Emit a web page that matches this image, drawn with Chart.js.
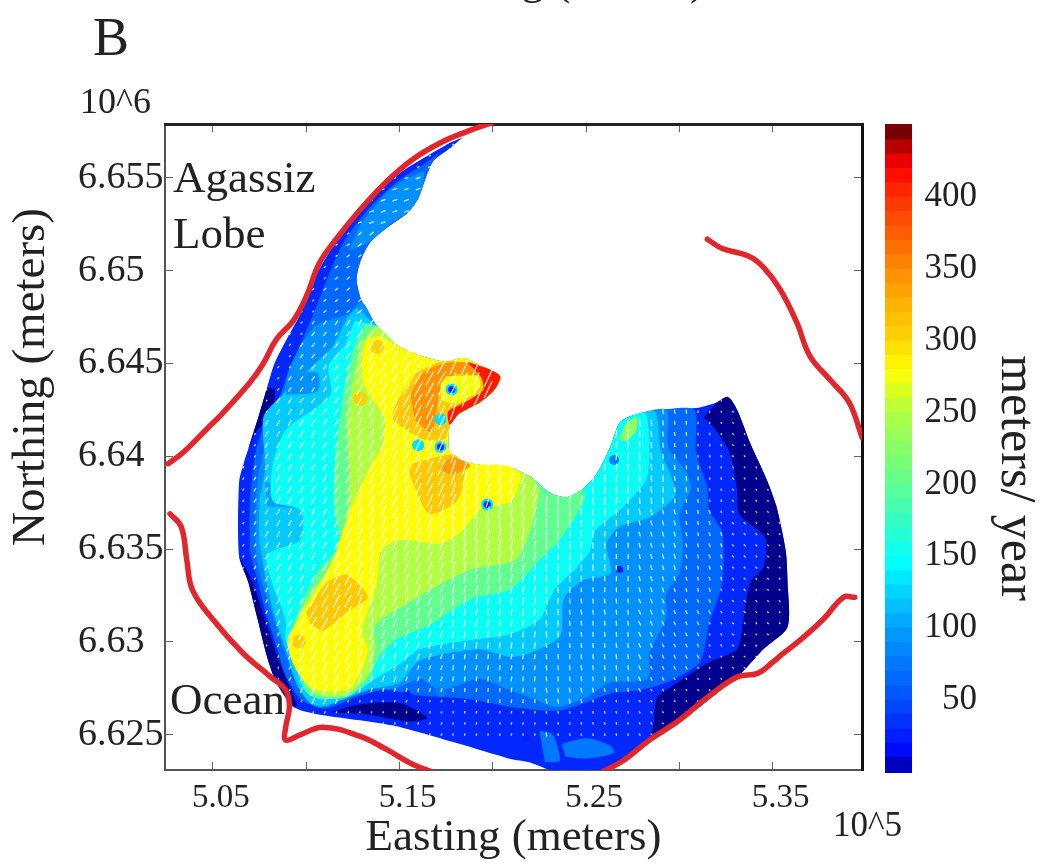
<!DOCTYPE html>
<html><head><meta charset="utf-8">
<style>html,body{margin:0;padding:0;background:#fff;width:1044px;height:865px;overflow:hidden}
canvas{position:absolute;top:0}</style>
<script src="https://cdn.jsdelivr.net/npm/chart.js@4"></script></head>
<body><canvas id="map" width="1044" height="865" style="left:0"></canvas>
<canvas id="bar" width="169" height="865" style="left:875px;background:transparent"></canvas>
<script>
// All map coordinates are [easting km, northing km]; axis labels are in 10^5 m and 10^6 m.
const xTickLabels = {505:'5.05',515:'5.15',525:'5.25',535:'5.35'};
const yTickLabels = {6655:'6.655',6650:'6.65',6645:'6.645',6640:'6.64',6635:'6.635',6630:'6.63',6625:'6.625'};
const colorStops = [[-1,[0,0,128]],[10,[0,0,255]],[50,[0,80,255]],[100,[0,160,255]],[145,[0,255,255]],[200,[96,255,144]],[250,[176,255,64]],[279,[255,255,0]],[300,[255,216,0]],[350,[255,140,0]],[400,[255,48,0]],[421,[255,0,0]],[440,[160,0,0]],[451,[80,0,0]]];
const colorbarEdges = [-1,10,20,30,40,50,60,70,80,90,100,110,120,130,140,150,160,170,180,190,200,210,220,230,240,250,260,270,280,290,300,310,320,330,340,350,360,370,380,390,400,410,420,430,440,451];
const colorbarTicks = [50,100,150,200,250,300,350,400];

const lobeEdge = [[516.8,6655.9],[516.4,6655],[516,6653.9],[515.4,6653.1],[514.3,6652.3],[513.4,6651.5],[512.9,6650.5],[512.7,6649.5],[513,6648.3]];
const bayEdge = [[513.8,6647],[515,6645.9],[516.5,6645.3],[517.5,6645.1],[518.4,6645.3],[519.3,6644.9],[520.4,6644.3],[520.1,6643.6],[519.3,6642.9],[518.2,6642.3],[517.7,6641.7],[517.7,6640.2],[518.9,6639.6],[520.9,6639.4],[522,6638.9],[523.1,6638],[524,6637.8],[524.8,6638.2],[525.6,6639.1],[526.3,6640.5],[526.8,6641.8],[527.5,6642.2]];
const eastEdge = [[533.1,6642.5],[533.8,6640.7],[534.7,6638.7],[535.2,6637.3],[535.7,6634.9],[535.8,6633.2],[535.8,6630.8],[534.5,6629.6],[533.4,6628.4],[532.7,6627.8],[531.1,6626.5],[529.5,6625.4],[528.4,6624.7]];
const iceOutline = [[518.4,6657.2],[517.7,6656.6],...lobeEdge,...bayEdge,[529,6642.5],[530.9,6642.6],[532,6642.9],[532.6,6643.2],...eastEdge,[528,6624.5],[526.8,6623.5],[525.7,6623],[523.4,6623],[522,6623.5],[520.9,6623.7],[518.2,6624.5],[514.6,6625.5],[510.6,6626.1],[509.3,6626.5],[508.4,6627.8],[507.9,6629.2],[507.4,6631.2],[506.9,6633.2],[506.4,6634.6],[506.4,6638.6],[506.7,6639.8],[506.9,6640.4],[507.4,6642],[507.9,6643.7],[508.3,6645],[509,6646.4],[509.7,6647.7],[510.5,6649.7],[511.3,6651.1],[512.3,6652.6],[513.8,6654.2],[515.2,6655.4],[516.5,6656.2],[517.7,6656.9]];

const navyEast = [[532,6642.9],[532.6,6643.2],...eastEdge,[528.6,6625.4],[528.8,6627],[529.3,6627.4],[531.6,6628.9],[533.1,6629.6],[533.4,6631],[533.8,6633.2],[534.5,6634],[534.6,6635.6],[533.2,6636.9],[533.1,6638.2],[532.7,6640.2],[531.8,6641.6],[531.3,6642.1]];
const navySouth = [[511.3,6626.2],[512.7,6626.6],[515,6626.7],[516.5,6625.9],[515.6,6625.7],[513.3,6626.1]];
const navySouthWest = [[506.4,6634.6],[507.1,6633.3],[507.8,6631.2],[508.6,6628.8],[509.5,6626.6],[509.3,6626.5],[508.4,6627.8],[507.9,6629.2],[507.4,6631.2],[506.9,6633.2]];
const navyWest = [[507.9,6643.7],[508.3,6643.6],[508.2,6642.3],[507.3,6641.3],[506.9,6640.4],[507.4,6642]];
const level65 = [[517.2,6656.4],...lobeEdge,...bayEdge,[529,6642.5],[530.8,6642.5],[530.9,6640.2],[531.5,6638.3],[531.6,6637.1],[532.3,6635.9],[532.3,6633.2],[531.6,6631],[531.1,6628.9],[529.3,6627.8],[527.9,6627.4],[526.3,6627.2],[523.6,6626.3],[520.9,6626.5],[518.8,6626.9],[516.1,6627.1],[514.2,6627.4],[512.6,6627],[511,6626.4],[509.7,6626.9],[508.9,6628.2],[508.3,6630.1],[507.8,6631.7],[507.4,6633.3],[507,6634.9],[507,6637.6],[507.3,6640.3],[507.9,6642],[508.6,6643.3],[509.1,6644.7],[509.8,6646.3],[510.6,6648.2],[511.3,6650],[512.1,6651.7],[513.4,6653.4],[515,6654.9],[516.4,6655.8]];
const level90 = [[510.4,6647],[511.1,6647.3],[512.3,6647.7],[513,6648.3],...bayEdge,[529.3,6642.5],[529.4,6640.5],[530.4,6639.1],[530.6,6638.2],[530,6636.9],[530.2,6635.3],[530,6633.7],[529.3,6632.6],[529.3,6631.3],[528.4,6629.4],[528.3,6628],[526.3,6627.8],[525,6627],[523.4,6626.5],[522,6627],[520.9,6627.4],[519.3,6628],[517.2,6627.4],[516.1,6628],[514.8,6627.5],[512.9,6627.4],[511.3,6626.9],[510.2,6626.9],[509.4,6628],[508.8,6629.6],[508.2,6631.4],[507.6,6633.3],[507.3,6634.9],[507.3,6637.6],[507.6,6639.8],[508.2,6641.4],[508.7,6643],[509.1,6644.7],[509.7,6646]];
const lobePatch90 = [[512.9,6652.5],[514.2,6654.1],[515.3,6654.9],[516.3,6655.3],[516.2,6654.4],[515.6,6653.3],[514.5,6652.5],[513.3,6651.5],[512.3,6651.1]];
const southPatchA90 = [[522.5,6625.2],[523.2,6625],[523.6,6623.6],[522.8,6623.5]];
const southPatchB90 = [[523.7,6624.5],[525,6624.8],[526.3,6624.4],[526.5,6624],[525,6623.7],[523.9,6623.8]];
const level120 = [[512.7,6648],...bayEdge,[528.7,6642.4],[529,6640.3],[529.6,6638.8],[529.8,6637.9],[528.4,6636.7],[526.8,6636.2],[526.1,6635.3],[526.3,6633.7],[524.8,6633.3],[523.8,6632.3],[523.6,6630.3],[522,6629.4],[520.9,6629.2],[519.2,6629.6],[516.1,6629],[515,6627.8],[513.3,6627.4],[510.9,6626.5],[510.2,6626.7],[509.5,6627.7],[508.9,6629.6],[508.3,6631.4],[507.8,6633.6],[507.5,6635.5],[507.5,6637.6],[507.8,6639.3],[507.7,6642.1],[508.6,6643.2],[510.7,6645.2],[511.4,6645.9],[512.2,6647.5]];
const westPatchA90 = [[507.8,6638.6],[509.5,6638.3],[509.5,6637.3],[507.9,6637.3]];
const westPatchB90 = [[509,6644.4],[510.6,6644.5],[510.6,6643.5],[508.9,6643.3]];
const level150 = [[512.6,6647.3],...bayEdge,[528.2,6642.3],[528.4,6640.3],[528.2,6638.7],[526.8,6637.1],[525.5,6636],[525.2,6634.9],[524.4,6633.9],[523.3,6632.8],[522.5,6631.2],[520.9,6630.4],[518.8,6630.1],[516.1,6629.6],[515,6628.8],[513.7,6628],[512.3,6627.1],[510.7,6626.9],[509.9,6627.4],[509.4,6628.8],[508.9,6630.1],[508.9,6631.2],[508.2,6633.1],[507.9,6634.7],[509.7,6635.5],[509.7,6637.1],[508.2,6637.6],[508.2,6639.5],[508.9,6641.4],[511.3,6643.3],[511.2,6644.9],[512.1,6646]];
const bayPatch230 = [[526.8,6640.9],[527.1,6641.7],[527.7,6642.1],[527.7,6641.4],[527.2,6640.8]];
const level200 = [[513.1,6647.1],...bayEdge.slice(0,18),[524.9,6637.6],[523.6,6635.5],[522.5,6634.4],[520.9,6632.8],[518.8,6632.3],[516.6,6630.9],[514.8,6630.1],[513.8,6629],[513.4,6628],[512.1,6627],[510.2,6627.1],[509.6,6628.5],[509.2,6629.8],[509.6,6631.7],[510.7,6633.9],[511.8,6635.2],[511.5,6637.1],[511.5,6639.3],[511.8,6642],[512.1,6644.1],[512.6,6646]];
const level250 = [[513.5,6646.8],...bayEdge.slice(0,15),[522.5,6638.2],[522,6636],[521.2,6634.4],[518.8,6633.9],[515.8,6632.3],[513.7,6630.9],[513.7,6629.6],[513.3,6628.2],[512.1,6627.1],[510.5,6627.2],[509.6,6628.4],[509.1,6630.1],[509.9,6632],[511.3,6634.1],[512.1,6636],[512.3,6638.7],[512.2,6642],[512.5,6644.1],[512.9,6646]];
const level280 = [[514,6646.5],...bayEdge.slice(1,13),[520.7,6639.5],[521.5,6639],[521,6637.6],[519.3,6637.1],[518.4,6636],[517.2,6635.3],[515,6635.5],[514,6634.9],[513.8,6633.2],[513,6630.6],[513.3,6629.6],[513,6628.5],[512.2,6627.4],[510.3,6627.5],[509.4,6628.6],[509,6630.1],[510,6631.9],[511.4,6634.4],[512.2,6636.7],[513.6,6639.8],[514,6640.3],[514.2,6642],[513.1,6643.8],[513,6645.2],[513.2,6646.3]];
const blobSouth310 = [[510,6631.6],[511.1,6633.2],[512.2,6633.6],[513.3,6632.4],[512.2,6631.6],[510.9,6630.6],[510.2,6631]];
const blobCentre310 = [[515.5,6639.1],[516.6,6636.9],[518.1,6637.6],[518.5,6639.3],[517.9,6640.1],[515.7,6639.6]];
const blobCentre340 = [[517.8,6640],[518.8,6639.5],[517.8,6639],[517.1,6639.4]];
const blobNorth310 = [[515.9,6644.5],[517.2,6645.1],[519,6645],[520.4,6644.3],[520.1,6643.6],[519.3,6642.9],[518.2,6642.3],[517.7,6641.7],[517.4,6640.9],[516.3,6640.9],[515.4,6641.4],[514.6,6642.1],[515,6643.2]];
const blobNorth345 = [[515.6,6643.3],[516.1,6644.4],[517.4,6645],[518.8,6645],[519.2,6644.4],[518,6644.4],[517.2,6643.6],[517,6642.5],[516.7,6641.3],[515.8,6642]];
const ringNorth280 = [[517.5,6644.3],[519.2,6644.3],[519.3,6643.7],[518.2,6642.9],[517.3,6643],[517.2,6643.9]];
const tipNorth410 = [[518.6,6645.1],[519.8,6644.7],[520.4,6644.3],[520.1,6643.6],[519.3,6642.9],[518.2,6642.3],[517.7,6641.7],[517.6,6642.4],[518.3,6642.8],[519,6643.2],[519.5,6643.6],[519.4,6644.2],[519,6644.7]];

const spotsCyan = [[517.8,6643.6],[517.2,6642],[517.2,6640.5],[516,6640.6],[519.7,6637.4]];
const spotsBlue = [[517.8,6643.6],[517.2,6640.5],[519.7,6637.4],[526.8,6633.9],[515.4,6627.2],[521.8,6624.8]];
const spotsAzure = [[526.5,6639.8],[517.2,6627.3]];
const spotsAmber = [[513.8,6645.9],[512.9,6643.1],[509.6,6630]];

const redNorthWest = [[502.6,6639.6],[503.4,6640.2],[504.7,6641.5],[505.5,6642.3],[507,6644],[507.7,6645],[508.4,6646.3],[509.3,6647.3],[510,6648.6],[510.7,6650.4],[511.6,6651.7],[512.9,6653.3],[514.3,6654.8],[515.7,6656],[517.2,6656.9],[518.6,6657.5],[520,6658]];
const redNorthEast = [[531.5,6651.7],[532.3,6651.2],[533.7,6650.8],[534.5,6650.2],[535.4,6649],[536.3,6647.2],[537,6645.4],[538.1,6644.1],[539.1,6642.9],[539.8,6641]];
const redSouthWest = [[502.7,6636.9],[503.3,6636.2],[503.6,6634.4],[503.9,6632.8],[505,6631.2],[506.6,6629.4],[508.1,6628.1],[508.9,6627.4],[509.1,6626.5],[508.9,6625.4],[508.9,6624.7],[509.7,6625],[510.9,6625.4],[512.9,6624.9],[514.3,6624.2],[515.7,6623.4],[517,6622.9]];
const redSouthEast = [[525.9,6623],[527,6623.6],[528.4,6624.7],[529.9,6625.7],[531.5,6627],[533.1,6628.1],[534.2,6628.3],[535,6628.9],[535.6,6629.4],[536.6,6630.2],[537.7,6631.2],[538.8,6632.4],[539.4,6632.4]];

// Arrow tilt from vertical (degrees, + leaning to the north-east), read per block of the map.
const arrowEastBlocks = [505,510,515,520,525,530,535];
const arrowNorthBlocks = [6655,6650,6645,6640,6635,6630,6625];
const arrowTilt = [
 [70,70,70,70,70,70,70],
 [50,50,50,50,50,50,50],
 [35,35,30,25,10,0,0],
 [30,30,25,18,5,-5,-30],
 [30,28,22,12,0,-15,-45],
 [30,28,20,8,-5,-25,-50],
 [30,25,15,5,-10,-30,-50]];

function colourOf(v){
  let i=0; while(i<colorStops.length-2 && v>colorStops[i+1][0]) i++;
  const [a,ca]=colorStops[i],[b,cb]=colorStops[i+1],t=Math.min(1,Math.max(0,(v-a)/(b-a)));
  return 'rgb('+ca.map((c,k)=>Math.round(c+(cb[k]-c)*t)).join(',')+')';
}
const regions = [[iceOutline,30],[navyEast,0],[navySouth,0],[navySouthWest,0],[navyWest,0],[level65,65],[level90,90],[lobePatch90,90],[southPatchA90,75],[southPatchB90,75],[level120,120],[westPatchA90,100],[westPatchB90,90],[level150,150],[bayPatch230,230],[level200,200],[level250,250],[level280,280],[blobSouth310,310],[blobCentre310,310],[blobCentre340,340],[blobNorth310,310],[blobNorth345,345],[ringNorth280,275],[tipNorth410,410]];
function inside(p,poly){let c=false;for(let i=0,j=poly.length-1;i<poly.length;j=i++){const a=poly[i],b=poly[j];
  if((a[1]>p[1])!==(b[1]>p[1])&&p[0]<(b[0]-a[0])*(p[1]-a[1])/(b[1]-a[1])+a[0])c=!c;}return c;}
function nearestIndex(list,v){let k=0;list.forEach((x,i)=>{if(Math.abs(x-v)<Math.abs(list[k]-v))k=i});return k;}

const arrowPts=[],arrowRad=[],arrowRot=[];
for(let e=506;e<537;e+=0.625){for(let n=6625;n<6658;n+=0.6){
  const p=[e,n];let v=null;
  for(const [poly,val] of regions){if(inside(p,poly))v=val;}
  if(v===null)continue;
  arrowPts.push(p);
  arrowRad.push(Math.max(1,0.6+v/300*6.4));
  arrowRot.push(90+arrowTilt[nearestIndex(arrowNorthBlocks,n)][nearestIndex(arrowEastBlocks,e)]);
}}

const serif='"Liberation Serif"', ink='#222';
const datasets=[];
let rank=1000;
for(const [poly,val] of regions){
  datasets.push({data:poly,showLine:true,fill:'shape',tension:.25,backgroundColor:colourOf(val),borderWidth:0,pointRadius:0,order:rank--});
}
function spots(data,val,r){datasets.push({data,backgroundColor:colourOf(val),pointRadius:r,pointBorderWidth:0,order:rank--});}
spots(spotsAmber,305,7);spots(spotsCyan,130,6);spots(spotsAzure,80,5);spots(spotsBlue,25,3.5);
datasets.push({data:arrowPts,pointStyle:'line',pointRadius:arrowRad,pointRotation:arrowRot,pointBorderColor:'rgba(255,255,255,.82)',pointBorderWidth:1.3,order:rank--});
for(const r of [redNorthWest,redNorthEast,redSouthWest,redSouthEast]){
  datasets.push({data:r,showLine:true,fill:false,tension:.4,borderColor:'#e3262c',borderWidth:5.5,borderCapStyle:'round',pointRadius:0,order:rank--});
}

const annotate={id:'annotate',afterDraw(c){
  const g=c.ctx,x=c.scales.x,y=c.scales.y;
  g.save();g.fillStyle=ink;g.textBaseline='alphabetic';g.textAlign='left';
  g.font='54px '+serif;g.fillText('B',93,55);
  g.font='36px '+serif;g.fillText('10^6',80,113);g.font='35px '+serif;g.fillText('10^5',833,836);
  g.font='45px '+serif;
  g.fillText('Agassiz',x.getPixelForValue(502.86),y.getPixelForValue(6654.25));
  g.fillText('Lobe',x.getPixelForValue(502.86),y.getPixelForValue(6651.2));
  g.fillText('Ocean',x.getPixelForValue(502.7),y.getPixelForValue(6626.1));
  g.textAlign='center';g.fillText('Easting (meters)',557,-6);
  g.textBaseline='middle';
  g.font='47px '+serif;g.translate(32,377);g.rotate(-Math.PI/2);g.fillText('Northing (meters)',0,0);
  g.restore();
}};
const fixH=h=>s=>{s.height=h}, fixW=w=>s=>{s.width=w};
new Chart(document.getElementById('map'),{
  type:'scatter',data:{datasets},plugins:[annotate],
  options:{responsive:false,animation:false,events:[],
    layout:{autoPadding:false,padding:{left:78,top:124,right:182,bottom:0}},
    plugins:{legend:{display:false},tooltip:{enabled:false},title:{display:false}},
    scales:{
      x:{type:'linear',position:'bottom',min:502.43,max:539.79,afterFit:fixH(95),
        border:{color:'#555',width:2},
        grid:{drawOnChartArea:false,tickLength:-8,color:'#666'},
        title:{display:true,text:'Easting (meters)',color:ink,font:{family:serif,size:45},padding:{top:0,bottom:0}},
        ticks:{stepSize:5,includeBounds:false,autoSkip:false,maxRotation:0,labelOffset:8,padding:17,color:ink,font:{family:serif,size:33},callback:v=>xTickLabels[v]||''}},
      y:{type:'linear',position:'left',min:6623.09,max:6657.91,afterFit:fixW(87),
        border:{color:'#555',width:2},
        grid:{drawOnChartArea:false,tickLength:-8,color:'#666'},
        ticks:{stepSize:5,includeBounds:false,autoSkip:false,crossAlign:'far',color:ink,font:{family:serif,size:38},callback:v=>yTickLabels[v]||''}},
      x2:{type:'linear',position:'top',min:502.43,max:539.79,afterFit:fixH(0),
        border:{color:'#222',width:3},
        grid:{drawOnChartArea:false,tickLength:-8,color:'#666'},
        ticks:{stepSize:5,includeBounds:false,display:false}},
      y2:{type:'linear',position:'right',min:6623.09,max:6657.91,afterFit:fixW(0),
        border:{color:'#111',width:3},
        grid:{drawOnChartArea:false,tickLength:-8,color:'#666'},
        ticks:{stepSize:5,includeBounds:false,display:false}}
    }}
});

const barSets=[];
for(let i=0;i<colorbarEdges.length-1;i++){
  const lo=colorbarEdges[i],hi=colorbarEdges[i+1];
  barSets.push({data:[[lo,hi]],backgroundColor:colourOf((lo+hi)/2),borderWidth:0,barPercentage:1,categoryPercentage:1,grouped:false});
}
const barTitle={id:'barTitle',afterDraw(c){
  const g=c.ctx;g.save();g.fillStyle=ink;g.textAlign='center';g.textBaseline='middle';
  g.font='50px '+serif;g.translate(1015-875,478);g.rotate(Math.PI/2);g.fillText('meters/ year',0,0);g.restore();
}};
new Chart(document.getElementById('bar'),{
  type:'bar',data:{labels:['speed'],datasets:barSets},plugins:[barTitle],
  options:{responsive:false,animation:false,events:[],
    layout:{autoPadding:false,padding:{left:10,top:124,right:67,bottom:92}},
    plugins:{legend:{display:false},tooltip:{enabled:false}},
    scales:{
      x:{display:false},
      y:{position:'right',min:-1,max:451,afterFit:fixW(65),
        afterBuildTicks:s=>{s.ticks=colorbarTicks.map(value=>({value}))},
        border:{display:false},
        grid:{drawOnChartArea:false,tickLength:-5,color:'#444'},
        ticks:{crossAlign:'far',autoSkip:false,color:ink,font:{family:serif,size:35}}}
    }}
});
</script></body></html>
